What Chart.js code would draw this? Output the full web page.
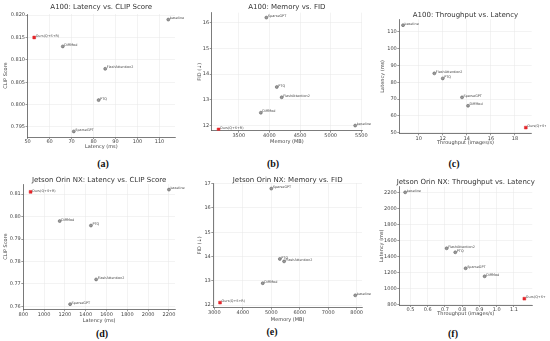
<!DOCTYPE html>
<html lang="en">
<head>
<meta charset="UTF-8">
<title>A100 / Jetson Orin NX trade-off scatter plots</title>
<script src="https://cdn.jsdelivr.net/npm/chart.js"></script>
<style>
  body { margin: 0; background: #fff; width: 550px; height: 341px; overflow: hidden; position: relative; }
  canvas { position: absolute; }
  .cap { position: absolute; font: bold 10px "Liberation Serif", serif; transform: translate(-50%, -50%); color: #111; }
</style>
</head>
<body>
<script>
// method names, same order in every series
const methods = ['baseline', 'Ours(Q+S+R)', 'DiffMod', 'FlashAttention2', 'PTQ', 'SparseGPT'];

// A100
const a100Latency = [114, 53, 66, 85.3, 82.3, 71];
const a100Clip = [0.819, 0.815, 0.813, 0.808, 0.801, 0.794];
const a100Memory = [5400, 3170, 3860, 4200, 4120, 3950];
const a100Fid = [12.0, 11.85, 12.5, 13.1, 13.5, 16.2];
const a100Throughput = [8.7, 18.9, 14.1, 11.3, 12.0, 13.6];

// Jetson Orin NX
const jetLatency = [2200, 870, 1150, 1500, 1450, 1250];
const jetClip = [0.812, 0.811, 0.798, 0.772, 0.796, 0.761];
const jetMemory = [7950, 3200, 4700, 5450, 5300, 5000];
const jetFid = [12.4, 12.1, 12.9, 13.8, 13.9, 16.8];
const jetThroughput = [0.47, 1.16, 0.93, 0.71, 0.76, 0.82];

// tick values
const ticksA_x = [50, 60, 70, 80, 90, 100, 110];
const ticksA_y = [0.795, 0.800, 0.805, 0.810, 0.815, 0.820];
const ticksB_x = [3500, 4000, 4500, 5000, 5500];
const ticksB_y = [12, 13, 14, 15, 16];
const ticksC_x = [10, 12, 14, 16, 18];
const ticksC_y = [50, 60, 70, 80, 90, 100, 110];
const ticksD_x = [800, 1000, 1200, 1400, 1600, 1800, 2000, 2200];
const ticksD_y = [0.76, 0.77, 0.78, 0.79, 0.80, 0.81];
const ticksE_x = [3000, 4000, 5000, 6000, 7000, 8000];
const ticksE_y = [12, 13, 14, 15, 16, 17];
const ticksF_x = [0.5, 0.6, 0.7, 0.8, 0.9, 1.0, 1.1];
const ticksF_y = [800, 1000, 1200, 1400, 1600, 1800, 2000, 2200];

const panels = [
  { cap: '(a)', capX: 103, capY: 163, title: 'A100: Latency vs. CLIP Score', xTitle: 'Latency (ms)', yTitle: 'CLIP Score',
    xs: a100Latency, ys: a100Clip, xTicks: ticksA_x, yTicks: ticksA_y, xDec: 0, yDec: 3,
    xMin: 49.95, xMax: 117.05, yMin: 0.79275, yMax: 0.82025,
    plot: { l: 27.5, t: 14, r: 175, b: 137 }, titleY: 7, yTitleX: 5.5, xTitleY: 147 },
  { cap: '(b)', capX: 273, capY: 163, title: 'A100: Memory vs. FID', xTitle: 'Memory (MB)', yTitle: 'FID (\u2193)',
    xs: a100Memory, ys: a100Fid, xTicks: ticksB_x, yTicks: ticksB_y, xDec: 0, yDec: 0,
    xMin: 3058, xMax: 5511, yMin: 11.8, yMax: 16.39,
    plot: { l: 211.7, t: 12.7, r: 362, b: 130.7 }, titleY: 7, yTitleX: 199.5, xTitleY: 141.7 },
  { cap: '(c)', capX: 454, capY: 163, title: 'A100: Throughput vs. Latency', xTitle: 'Throughput (images/s)', yTitle: 'Latency (ms)',
    xs: a100Throughput, ys: a100Latency, xTicks: ticksC_x, yTicks: ticksC_y, xDec: 0, yDec: 0,
    xMin: 8.39, xMax: 19.39, yMin: 49.6, yMax: 117.5,
    plot: { l: 399.3, t: 19.3, r: 531.7, b: 133.3 }, titleY: 15, yTitleX: 382.5, xTitleY: 142.7 },
  { cap: '(d)', capX: 102, capY: 333, title: 'Jetson Orin NX: Latency vs. CLIP Score', xTitle: 'Latency (ms)', yTitle: 'CLIP Score',
    xs: jetLatency, ys: jetClip, xTicks: ticksD_x, yTicks: ticksD_y, xDec: 0, yDec: 2,
    xMin: 800, xMax: 2258, yMin: 0.7587, yMax: 0.8145,
    plot: { l: 23.3, t: 184, r: 175, b: 309.3 }, titleY: 180, yTitleX: 5.5, xTitleY: 321 },
  { cap: '(e)', capX: 272, capY: 331, title: 'Jetson Orin NX: Memory vs. FID', xTitle: 'Memory (MB)', yTitle: 'FID (\u2193)',
    xs: jetMemory, ys: jetFid, xTicks: ticksE_x, yTicks: ticksE_y, xDec: 0, yDec: 0,
    xMin: 2963, xMax: 8187, yMin: 11.89, yMax: 17.03,
    plot: { l: 213.3, t: 183, r: 362, b: 307.7 }, titleY: 179.7, yTitleX: 199.5, xTitleY: 319.7 },
  { cap: '(f)', capX: 453, capY: 333, title: 'Jetson Orin NX: Throughput vs. Latency', xTitle: 'Throughput (images/s)', yTitle: 'Latency (ms)',
    xs: jetThroughput, ys: jetLatency, xTicks: ticksF_x, yTicks: ticksF_y, xDec: 1, yDec: 0,
    xMin: 0.436, xMax: 1.206, yMin: 791, yMax: 2270,
    plot: { l: 399.3, t: 186.7, r: 532.3, b: 305 }, titleY: 182, yTitleX: 381.5, xTitleY: 314 }
];

const FONT = '"DejaVu Sans", sans-serif';

// small text next to every point
const pointLabels = {
  id: 'pointLabels',
  afterDatasetsDraw(chart) {
    const ctx = chart.ctx;
    const meta = chart.getDatasetMeta(0);
    ctx.save();
    ctx.font = '3.4px ' + FONT;
    ctx.fillStyle = '#444';
    ctx.textAlign = 'left';
    ctx.textBaseline = 'middle';
    meta.data.forEach((pt, i) => {
      ctx.fillText(methods[i], pt.x + 1.5, pt.y - 1.2);
    });
    ctx.restore();
  }
};

// title centred over the plot area, like matplotlib
const panelTitle = {
  id: 'panelTitle',
  afterDraw(chart, args, opts) {
    const { ctx, chartArea } = chart;
    ctx.save();
    ctx.font = '7px ' + FONT;
    ctx.fillStyle = '#333';
    ctx.textAlign = 'center';
    ctx.textBaseline = 'middle';
    ctx.fillText(opts.text, (chartArea.left + chartArea.right) / 2, opts.y);
    ctx.restore();
  }
};

panels.forEach(p => {
  const cl = Math.floor(p.yTitleX - 4);
  const ct = Math.round(p.titleY - 6);
  const cr = Math.min(550, Math.round(p.plot.r + 14));
  const cb = Math.round(p.xTitleY + 3.2);

  const canvas = document.createElement('canvas');
  canvas.width = cr - cl;
  canvas.height = cb - ct;
  canvas.style.left = cl + 'px';
  canvas.style.top = ct + 'px';
  canvas.style.width = (cr - cl) + 'px';
  canvas.style.height = (cb - ct) + 'px';
  document.body.appendChild(canvas);

  const cap = document.createElement('div');
  cap.className = 'cap';
  cap.textContent = p.cap;
  cap.style.left = p.capX + 'px';
  cap.style.top = p.capY + 'px';
  document.body.appendChild(cap);

  const isOurs = methods.map(m => m.startsWith('Ours'));
  const tickFont = { family: FONT, size: 5 };
  const gridOpts = { color: '#e6e6e6', lineWidth: 0.5, tickLength: 2, tickColor: '#555', tickWidth: 0.6 };
  const borderOpts = { color: '#444', width: 0.7 };
  // y title centre = canvas left + lineHeight/2 + padding.top
  const yTitlePad = Math.max(0, p.yTitleX - cl - 3);

  new Chart(canvas.getContext('2d'), {
    type: 'scatter',
    data: {
      datasets: [{
        data: p.xs.map((x, i) => ({ x: x, y: p.ys[i] })),
        pointStyle: isOurs.map(o => o ? 'rect' : 'circle'),
        pointRadius: isOurs.map(o => o ? 2 : 1.5),
        backgroundColor: isOurs.map(o => o ? '#e3262b' : '#9a9a9a'),
        borderColor: isOurs.map(o => o ? '#e3262b' : '#555'),
        borderWidth: 0.5
      }]
    },
    options: {
      responsive: false,
      animation: false,
      devicePixelRatio: 1,
      layout: { padding: { left: 0, top: p.plot.t - ct, right: cr - p.plot.r, bottom: 0 } },
      scales: {
        x: {
          type: 'linear', min: p.xMin, max: p.xMax,
          afterBuildTicks: s => { s.ticks = p.xTicks.map(v => ({ value: v })); },
          afterFit: s => { s.height = cb - p.plot.b; s.paddingLeft = 0; s.paddingRight = 0; },
          ticks: { font: tickFont, color: '#444', padding: 0, maxRotation: 0, autoSkip: false,
                   callback: v => Number(v).toFixed(p.xDec) },
          grid: gridOpts, border: borderOpts,
          title: { display: true, text: p.xTitle, color: '#444', font: tickFont, padding: { top: 0, bottom: 0 } }
        },
        y: {
          type: 'linear', min: p.yMin, max: p.yMax,
          afterBuildTicks: s => { s.ticks = p.yTicks.map(v => ({ value: v })); },
          afterFit: s => { s.width = p.plot.l - cl; s.paddingTop = 0; s.paddingBottom = 0; },
          ticks: { font: tickFont, color: '#444', padding: 0.5, autoSkip: false,
                   callback: v => Number(v).toFixed(p.yDec) },
          grid: gridOpts, border: borderOpts,
          title: { display: true, text: p.yTitle, color: '#444', font: tickFont, padding: { top: yTitlePad, bottom: 0 } }
        }
      },
      plugins: {
        legend: { display: false },
        tooltip: { enabled: false },
        panelTitle: { text: p.title, y: p.titleY - ct }
      }
    },
    plugins: [pointLabels, panelTitle]
  });
});
</script>
</body>
</html>
